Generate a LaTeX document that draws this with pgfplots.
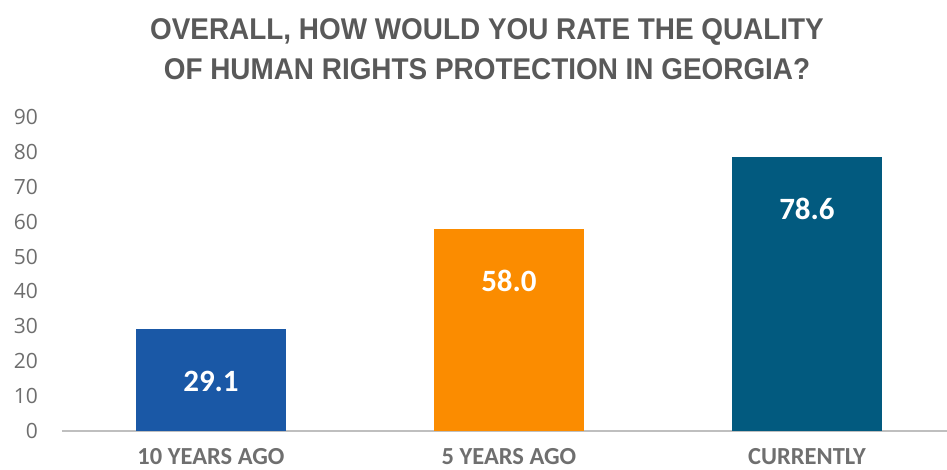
\documentclass[border=0pt]{standalone}
\usepackage{fontspec}
\setmainfont{Carlito}
\newfontfamily\titlefont[FakeStretch=0.93]{Liberation Sans}
\newfontfamily\tickfont{Open Sans}
\usepackage{pgfplots}
\pgfplotsset{compat=1.18}
\usetikzlibrary{calc}
\definecolor{barA}{HTML}{1A58A6}
\definecolor{barB}{HTML}{FB8C00}
\definecolor{barC}{HTML}{025A7F}
\definecolor{titlegray}{HTML}{595959}
\definecolor{tickgray}{HTML}{6E6E6E}
\definecolor{catgray}{HTML}{6F6F6F}
\definecolor{linegray}{HTML}{BFBFBF}
\begin{document}
\begin{tikzpicture}
\begin{axis}[
  scale only axis,
  width=885pt, height=314pt,
  xmin=-0.5, xmax=2.47,
  ymin=0, ymax=90,
  ytick={0,10,...,90},
  xtick={0,1,2},
  xticklabels={10 YEARS AGO,5 YEARS AGO,CURRENTLY},
  axis x line*=bottom,
  axis y line*=left,
  x axis line style={draw=linegray, line width=1.5pt, -},
  y axis line style={draw=none},
  major tick style={draw=none},
  /pgf/number format/assume math mode=true,
  yticklabel style={font=\tickfont\fontsize{21}{21}\selectfont, text=tickgray, inner sep=0pt, xshift=-24pt, anchor=east},
  xticklabel style={font=\bfseries\fontsize{24.5}{24.5}\selectfont, text=catgray, inner sep=0pt, anchor=base, yshift=-29pt},
  ybar, bar width=150pt,
  nodes near coords,
  nodes near coords style={font=\bfseries\fontsize{31}{31}\selectfont, text=white, anchor=center, yshift=-52pt, inner sep=0pt,
    /pgf/number format/.cd, fixed, fixed zerofill, precision=1, assume math mode=true},
  clip=false,
]
\addplot[bar shift=0pt, fill=barA, draw=none] coordinates {(0,29.1)};
\addplot[bar shift=0pt, fill=barB, draw=none] coordinates {(1,58.0)};
\addplot[bar shift=0pt, fill=barC, draw=none] coordinates {(2,78.6)};
\end{axis}
\node[anchor=base, font=\titlefont\bfseries\fontsize{30}{30}\selectfont, text=titlegray, inner sep=0pt]
  at ($(current axis.north)+(-17.5pt,77pt)$) {OVERALL, HOW WOULD YOU RATE THE QUALITY};
\node[anchor=base, font=\titlefont\bfseries\fontsize{30}{30}\selectfont, text=titlegray, inner sep=0pt]
  at ($(current axis.north)+(-17.5pt,37pt)$) {OF HUMAN RIGHTS PROTECTION IN GEORGIA?};
\pgfresetboundingbox
\path[use as bounding box] ($(current axis.south west)+(-62pt,-39pt)$) rectangle ($(current axis.north east)+(0pt,117pt)$);
\end{tikzpicture}
\end{document}
